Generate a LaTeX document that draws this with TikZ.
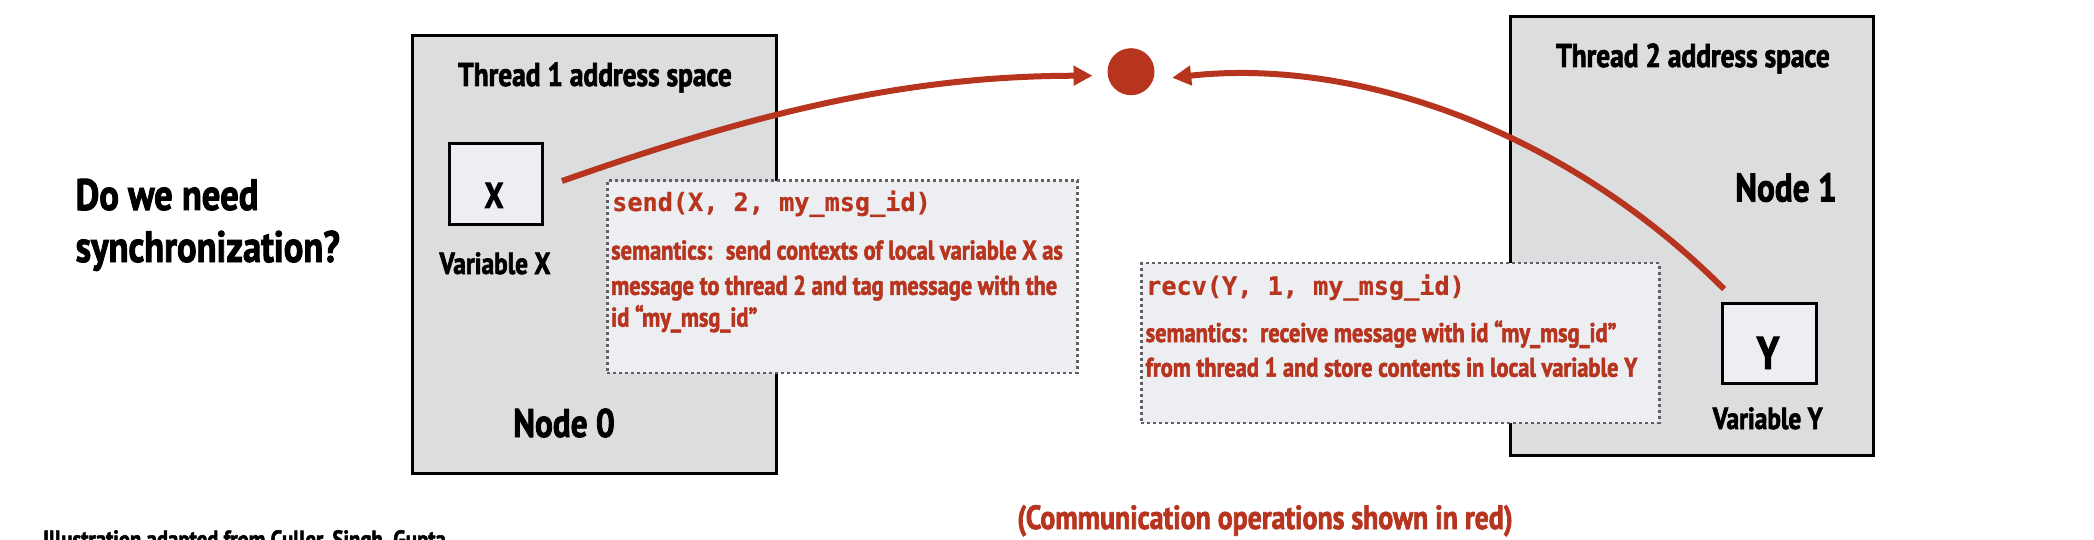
\documentclass[tikz,border=0pt]{standalone}
\usepackage{fontspec}
\setmainfont{PT Sans}[FakeStretch=0.83, BoldFeatures={FakeBold=2}]
\setmonofont{DejaVu Sans Mono}[BoldFeatures={FakeBold=0.6}]
\usetikzlibrary{arrows.meta}
\definecolor{cred}{RGB}{183,53,31}
\definecolor{outerfill}{RGB}{220,221,223}
\definecolor{innerfill}{RGB}{237,238,242}
\definecolor{dotgray}{RGB}{95,95,100}
\begin{document}
\begin{tikzpicture}[x=1pt,y=-1pt,
  bigbox/.style={draw=black, line width=3pt, fill=outerfill, inner sep=0pt, anchor=north west},
  varbox/.style={draw=black, line width=3pt, fill=innerfill, inner sep=0pt, anchor=north west},
  opbox/.style={draw=dotgray, line width=2.5pt, dash pattern=on 3pt off 3pt, fill=innerfill, inner sep=0pt, anchor=north west},
  txt/.style={inner sep=0pt, anchor=base},
  title/.style={txt, anchor=base west, font=\bfseries\fontsize{44}{50}\selectfont},
  hdr/.style={txt, font=\bfseries\fontsize{33}{38}\selectfont},
  varl/.style={txt, font=\bfseries\fontsize{36}{40}\selectfont},
  varname/.style={txt, font=\bfseries\fontsize{30.5}{34}\selectfont},
  nodel/.style={txt, font=\bfseries\fontsize{40}{46}\selectfont},
  code/.style={txt, anchor=base west, text=cred, font=\ttfamily\bfseries\fontsize{25.2}{28}\selectfont},
  sem/.style={txt, anchor=base west, text=cred, font=\bfseries\fontsize{27}{30}\selectfont},
  comm/.style={draw=cred, line width=6pt, -{Triangle[length=19pt,width=19pt]}},
]
\useasboundingbox (0,0) rectangle (2094,540);
\clip (0,0) rectangle (2094,540);

% question
\node[title] (q1) at (75.5,210) {Do we need};
\node[title] (q2) at (75.5,262) {synchronization?};

% node 0
\node[bigbox, minimum width=364pt, minimum height=438pt] (node0) at (410.6,33.7) {};
\node[hdr] (t1) at (595,86) {Thread 1 address space};
\node[varbox, minimum width=93pt, minimum height=81pt] (xbox) at (448,142) {};
\node[varl] (xl) at (494,208) {X};
\node[varname] (vx) at (495,274) {Variable X};
\node[nodel] (n0l) at (564,437) {Node 0};

% node 1
\node[bigbox, minimum width=363pt, minimum height=439pt] (node1) at (1509,15) {};
\node[hdr] (t2) at (1693,67) {Thread 2 address space};
\node[nodel] (n1l) at (1786,201.5) {Node 1};
\node[varbox, minimum width=94pt, minimum height=80pt] (ybox) at (1721,301.6) {};
\node[varl, font=\bfseries\fontsize{46}{52}\selectfont] (yl) at (1768,369) {Y};
\node[varname] (vy) at (1767.7,429) {Variable Y};

% send box
\node[opbox, minimum width=470pt, minimum height=192.5pt] (sendbox) at (606,179.3) {};
\node[code] (sendc) at (612,211) {send(X, 2, my\_msg\_id)};
\node[sem] (sa1) at (611,259.5) {semantics:\hspace{0.5em}send contexts of local variable X as};
\node[sem] (sa2) at (611,294.8) {message to thread 2 and tag message with the};
\node[sem] (sa3) at (611,326.6) {id “my\_msg\_id”};

% recv box
\node[opbox, minimum width=518pt, minimum height=159.5pt] (recvbox) at (1140,262) {};
\node[code] (recvc) at (1146,294.8) {recv(Y, 1, my\_msg\_id)};
\node[sem] (sb1) at (1145.5,342) {semantics:\hspace{0.5em}receive message with id “my\_msg\_id”};
\node[sem] (sb2) at (1145.5,376.7) {from thread 1 and store contents in local variable Y};

% rendezvous dot
\node[circle, fill=cred, minimum size=47pt, inner sep=0pt] (dot) at (1131,71.7) {};

% connectors
\coordinate (s1) at ([xshift=18pt,yshift=3pt]xbox.east);
\coordinate (e1) at ([xshift=-14.8pt,yshift=-4pt]dot.west);
\coordinate (s2) at ([xshift=3pt,yshift=12.6pt]ybox.north west);
\coordinate (e2) at ([xshift=17.5pt,yshift=-6pt]dot.east);
\draw[comm] (s1) .. controls (750,115) and (900,76) .. (e1);
\draw[comm] (s2) .. controls (1560,125) and (1350,58) .. (e2);

% captions
\node[sem, font=\bfseries\fontsize{33.5}{36}\selectfont] (cap) at (1017,529) {(Communication operations shown in red)};
\node[txt, anchor=base west, font=\bfseries\fontsize{25}{28}\selectfont] (credit) at (43,548) {Illustration adapted from Culler, Singh, Gupta};
\end{tikzpicture}
\end{document}
